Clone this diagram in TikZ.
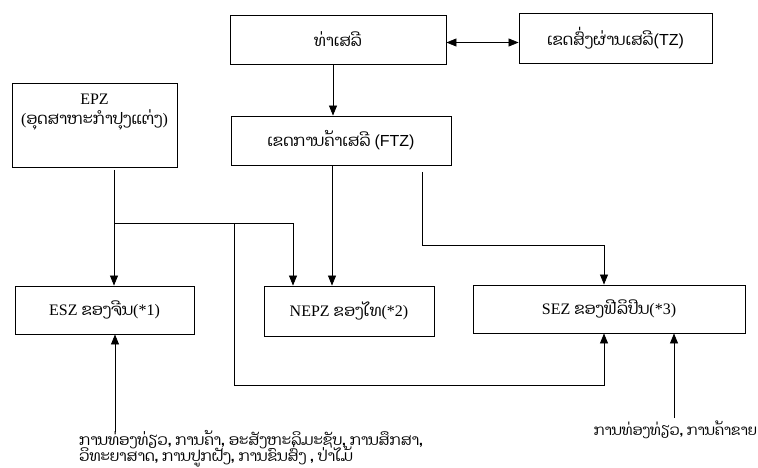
\documentclass[tikz,border=0pt]{standalone}
\usepackage{fontspec}
\setmainfont{Liberation Serif}
\newfontfamily\laofont[Script=Lao]{Dhyana}
\newfontfamily\latsans{Liberation Sans}
\usepackage{tikz}
\usetikzlibrary{arrows.meta,positioning}
\tikzstyle{zone} = [draw,line width=0.9pt,inner sep=0pt]
\tikzstyle{arrow} = [line width=0.7pt,-{Triangle[width=8pt,length=10pt]}]
\tikzstyle{link} = [line width=0.7pt]

\begin{document}
\begin{tikzpicture}[x=1pt,y=-1pt,font=\fontsize{16}{20}\selectfont]
\useasboundingbox (0,0) rectangle (758,468);
\node[zone,minimum width=216pt,minimum height=49pt] (port) at (338,39.5) {\laofont ທ່າເສລີ};
\node[zone,minimum width=193pt,minimum height=50pt] (tz) at (615.5,38) {\laofont ເຂດສົ່ງຜ່ານເສລີ{\latsans(TZ)}};
\node[zone,minimum width=165pt,minimum height=84pt] (epz) at (94.5,125) {};
\node[align=center] (epztext) at (94.5,112) {EPZ\\({\laofont ອຸດສາຫະກຳປຸງແຕ່ງ})};
\node[zone,minimum width=220pt,minimum height=49pt] (ftz) at (341,140.5) {\laofont ເຂດການຄ້າເສລີ {\latsans(FTZ)}};
\node[zone,minimum width=179pt,minimum height=48pt] (esz) at (104.5,310) {ESZ {\laofont ຂອງຈີນ}(*1)};
\node[zone,minimum width=170pt,minimum height=50pt] (nepz) at (349,311) {NEPZ {\laofont ຂອງໄທ}(*2)};
\node[zone,minimum width=272pt,minimum height=48pt] (sez) at (609,309) {SEZ {\laofont ຂອງຟີລິປິນ}(*3)};
\node[anchor=base west,inner sep=0pt,font=\laofont\fontsize{15}{18}\selectfont] (eszuse) at (79,445) {ການທ່ອງທ່ຽວ, ການຄ້າ, ອະສັງຫະລິມະຊັບ, ການສຶກສາ,};
\node[anchor=base west,inner sep=0pt,font=\laofont\fontsize{15}{18}\selectfont] (eszuse2) at (79,461) {ວິທະຍາສາດ, ການປູກຝັງ, ການຂົນສົ່ງ , ປ່າໄມ້};
\node[anchor=base east,inner sep=0pt,font=\laofont\fontsize{14.5}{18}\selectfont] (sezuse) at (757,435) {ການທ່ອງທ່ຽວ, ການຄ້າຂາຍ};
\coordinate (epzfoot) at (114,170);
\coordinate (split) at (114,223);
\coordinate (tee) at (234,223);
\coordinate (loop) at (234,385);
\coordinate (ftzfoot) at (422,172);
\coordinate (bend) at (422,245);
\coordinate (eszroot) at (115,432);
\coordinate (sezroot) at (674,418);
\draw[{Triangle[width=8pt,length=10pt]}-{Triangle[width=8pt,length=10pt]},line width=0.7pt] ([yshift=-3pt]port.east) -- ([yshift=-3pt]port.east -| tz.west);
\draw[arrow] ([xshift=-5pt]port.south) -- ([xshift=-5pt]port.south |- ftz.north);
\draw[arrow] (epzfoot) -- (epzfoot |- esz.north);
\draw[arrow] (split) -| ([xshift=-56pt]nepz.north);
\draw[arrow] ([xshift=-9pt]ftz.south) -- ([xshift=-9pt]ftz.south |- nepz.north);
\draw[arrow] (ftzfoot) -- (bend) -| ([xshift=-5pt]sez.north);
\draw[arrow] (tee) -- (loop) -| ([xshift=-5pt]sez.south);
\draw[arrow] (eszroot) -- (eszroot |- esz.south);
\draw[arrow] (sezroot) -- (sezroot |- sez.south);
\end{tikzpicture}
\end{document}
